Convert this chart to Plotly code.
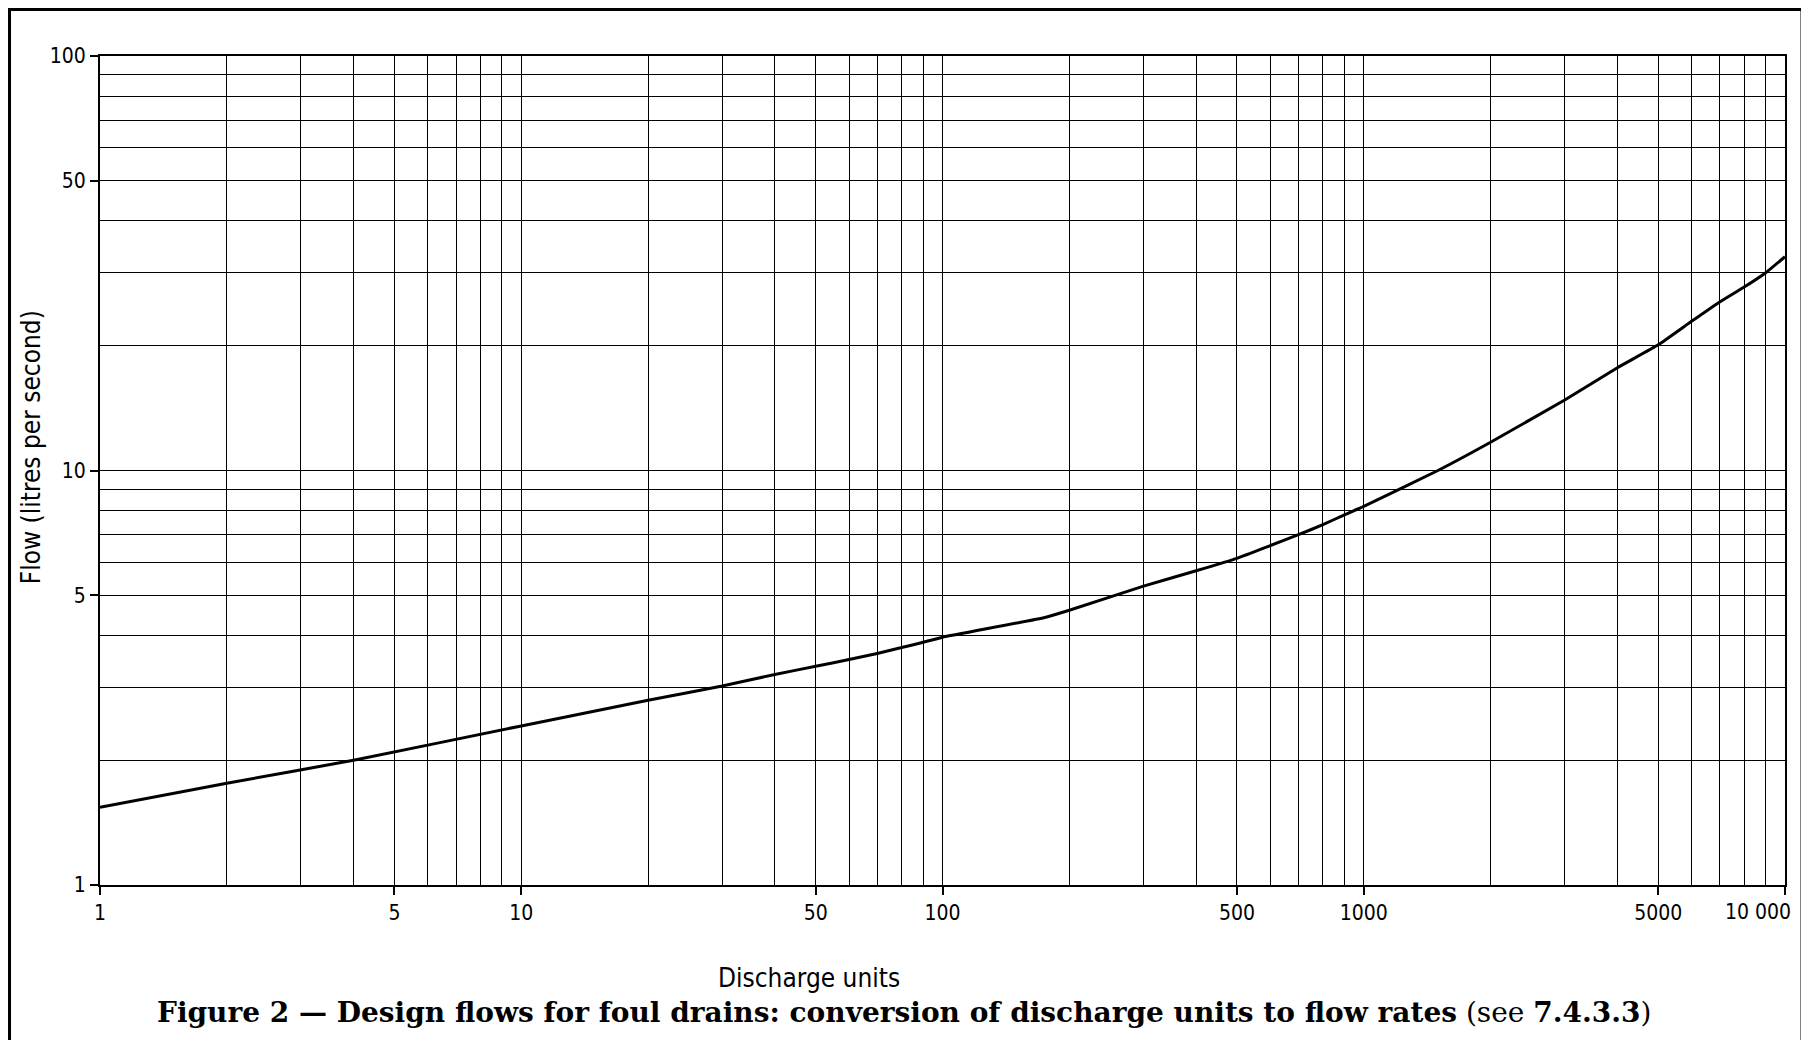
import math
import plotly.graph_objects as go

# ---- data ----
discharge_units = [1, 2, 4, 10, 20, 30, 40, 50, 60, 70, 80, 90, 100, 175, 200,
                   300, 400, 500, 600, 700, 800, 900, 1000, 1500, 2000, 3000,
                   4000, 5000, 6000, 7000, 8000, 9000, 10000]
flow_lps = [1.54, 1.76, 2.0, 2.42, 2.79, 3.02, 3.22, 3.37, 3.50, 3.62, 3.74, 3.85,
            3.96, 4.42, 4.6, 5.26, 5.73, 6.14, 6.59, 7.0, 7.40, 7.82, 8.19, 10.0,
            11.7, 14.8, 17.7, 20.1, 22.9, 25.5, 27.7, 30.0, 32.8]

x_tick_vals = [1, 5, 10, 50, 100, 500, 1000, 5000, 10000]
x_tick_text = ["1", "5", "10", "50", "100", "500", "1000", "5000", "10 000"]
x_minor_vals = [2, 3, 4, 6, 7, 8, 9, 20, 30, 40, 60, 70, 80, 90,
                200, 300, 400, 600, 700, 800, 900,
                2000, 3000, 4000, 6000, 7000, 8000, 9000]
y_tick_vals = [1, 5, 10, 50, 100]
y_tick_text = ["1", "5", "10", "50", "100"]
y_minor_vals = [2, 3, 4, 6, 7, 8, 9, 20, 30, 40, 60, 70, 80, 90]

x_title = "Discharge units"
y_title = "Flow (litres per second)"
caption = ("<b>Figure 2 — Design flows for foul drains: conversion of discharge "
           "units to flow rates</b> (see <b>7.4.3.3</b>)")

TECH_FONT = "DejaVu Sans Condensed, Liberation Sans Narrow, DejaVu Sans, sans-serif"
SERIF_FONT = "DejaVu Serif, Liberation Serif, serif"
TICK_SIZE = 21

fig = go.Figure()
fig.add_trace(go.Scatter(
    x=discharge_units, y=flow_lps, mode="lines",
    line=dict(color="black", width=3, shape="spline", smoothing=0.4),
    showlegend=False, hoverinfo="x+y",
))

axis_common = dict(
    type="log",
    automargin=False,
    showline=True, linecolor="black", linewidth=2, mirror=True,
    showgrid=True, gridcolor="black", gridwidth=1.3,
    ticks="outside", ticklen=8, tickwidth=2, tickcolor="black",
    tickfont=dict(family=TECH_FONT, size=TICK_SIZE, color="black"),
    zeroline=False,
)

# the last x label sits left of its tick in the reference (right edge of the
# chart), so it is drawn as a right-anchored label at the same axis value
fig.update_xaxes(
    **axis_common,
    range=[0, 4],
    tickmode="array", tickvals=x_tick_vals,
    ticktext=x_tick_text[:-1] + [""],
    minor=dict(tickmode="array", tickvals=x_minor_vals, showgrid=True,
               gridcolor="black", gridwidth=1.3, ticks=""),
)
fig.update_yaxes(
    **axis_common,
    range=[0, 2],
    tickmode="array", tickvals=y_tick_vals, ticktext=y_tick_text,
    minor=dict(tickmode="array", tickvals=y_minor_vals, showgrid=True,
               gridcolor="black", gridwidth=1.3, ticks=""),
)

fig.add_annotation(text=x_tick_text[-1], xref="x", yref="paper",
                   x=math.log10(x_tick_vals[-1]), y=-0.0325, xshift=8,
                   showarrow=False, xanchor="right", yanchor="middle",
                   font=dict(family=TECH_FONT, size=TICK_SIZE, color="black"))

fig.add_annotation(text=x_title, xref="paper", yref="paper", x=0.4208, y=-0.1122,
                   showarrow=False, xanchor="center", yanchor="middle",
                   font=dict(family=TECH_FONT, size=26, color="black"))
fig.add_annotation(text=y_title, xref="paper", yref="paper", x=-0.041, y=0.528,
                   showarrow=False, xanchor="center", yanchor="middle", textangle=-90,
                   font=dict(family=TECH_FONT, size=26, color="black"))
fig.add_annotation(text=caption, xref="paper", yref="paper", x=0.477, y=-0.1544,
                   showarrow=False, xanchor="center", yanchor="middle",
                   font=dict(family=SERIF_FONT, size=28, color="black"))

# figure frame (left, top and right edges)
fig.add_shape(type="path", xref="paper", yref="paper",
              path="M -0.0537,-0.25 L -0.0537,1.0561 L 1.0101,1.0561 L 1.0101,-0.25",
              line=dict(color="black", width=3))

# page body adds an 8 px offset; margins compensate so the plot area sits where
# the reference has it (x 100-1785, y 56-885 in the 1809x1040 window)
fig.update_layout(
    width=1801, height=1032,
    margin=dict(l=92, r=24, t=48, b=155),
    paper_bgcolor="white", plot_bgcolor="white",
    font=dict(family=TECH_FONT, color="black"),
)

fig.write_html("out.html")
